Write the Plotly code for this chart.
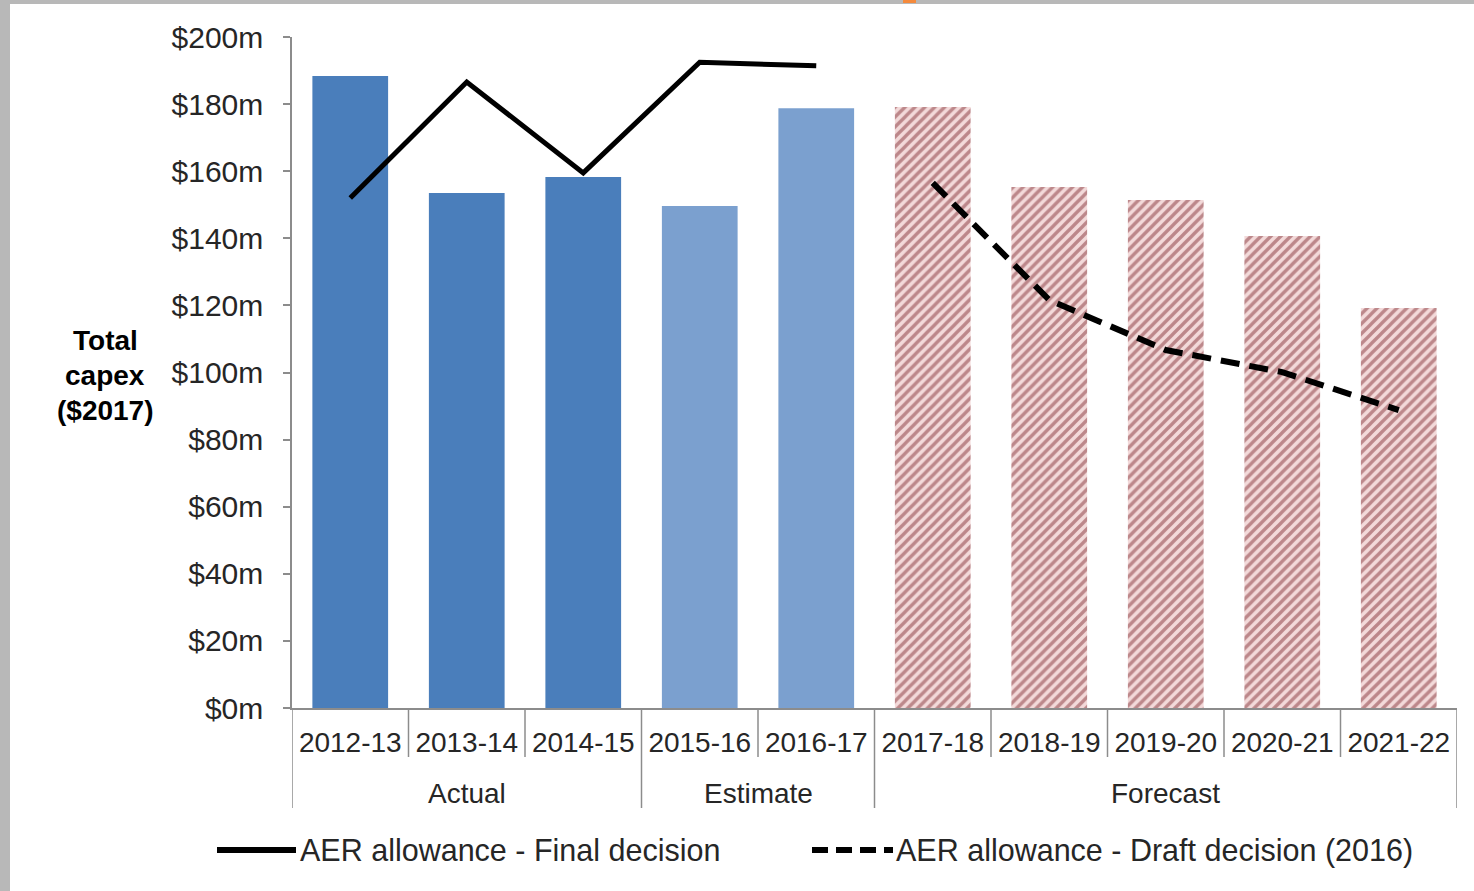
import plotly.graph_objects as go

# Financial years and the phase each belongs to
years = ["2012-13", "2013-14", "2014-15", "2015-16", "2016-17",
         "2017-18", "2018-19", "2019-20", "2020-21", "2021-22"]
phases = ["Actual", "Actual", "Actual", "Estimate", "Estimate",
          "Forecast", "Forecast", "Forecast", "Forecast", "Forecast"]
phase_names = ["Actual", "Estimate", "Forecast"]

# Total capex ($m, $2017)
capex = [188.4, 153.5, 158.3, 149.6, 178.8, 179.1, 155.3, 151.4, 140.7, 119.2]

# AER allowance lines ($m)
final_years = years[:5]
final_decision = [152.0, 186.6, 159.5, 192.5, 191.4]

draft_years = years[5:]
draft_decision = [156.5, 121.6, 106.7, 100.1, 88.8]

FONT = "Liberation Sans, Arial, sans-serif"
TXT = "#262626"
GRID = "#8c8c8c"

fig = go.Figure()

for phase, color in [("Actual", "#4a7ebb"), ("Estimate", "#7ba0cf")]:
    idx = [i for i, p in enumerate(phases) if p == phase]
    fig.add_trace(go.Bar(
        x=[years[i] for i in idx], y=[capex[i] for i in idx],
        marker=dict(color=color, line=dict(width=0)),
        showlegend=False, width=0.65,
    ))

idx = [i for i, p in enumerate(phases) if p == "Forecast"]
fig.add_trace(go.Bar(
    x=[years[i] for i in idx], y=[capex[i] for i in idx],
    marker=dict(color="#f3dada", line=dict(width=0),
                pattern=dict(shape="/", fgcolor="#863339", bgcolor="#f3dada",
                             size=7, solidity=0.48)),
    showlegend=False, width=0.65,
))

fig.add_trace(go.Scatter(
    x=final_years, y=final_decision, mode="lines",
    line=dict(color="black", width=5),
    name="AER allowance - Final decision", showlegend=False,
))
fig.add_trace(go.Scatter(
    x=draft_years, y=draft_decision, mode="lines",
    line=dict(color="black", width=6, dash="19px,10px"),
    name="AER allowance - Draft decision (2016)", showlegend=False,
))

# Plot-area geometry in pixels, used to place the hand-drawn legend
W, H = 1474, 891
L, R, T, B = 292, 17, 37, 183
pw, ph = W - L - R, H - T - B


def px(x):
    return (x - L) / pw


def py(y):
    return (H - B - y) / ph


shapes = [
    # outer frame bands
    dict(type="rect", xref="paper", yref="paper", x0=px(0), x1=px(10), y0=py(891), y1=py(0),
         fillcolor="#b8b8b8", line=dict(width=0), layer="below"),
    dict(type="rect", xref="paper", yref="paper", x0=px(0), x1=px(1474), y0=py(4), y1=py(0),
         fillcolor="#b8b8b8", line=dict(width=0), layer="below"),
    dict(type="rect", xref="paper", yref="paper", x0=px(903), x1=px(916), y0=py(3), y1=py(0),
         fillcolor="#f58a3c", line=dict(width=0)),
    # legend keys
    dict(type="line", xref="paper", yref="paper", x0=px(217), x1=px(296), y0=py(850), y1=py(850),
         line=dict(color="black", width=6)),
    dict(type="line", xref="paper", yref="paper", x0=px(812), x1=px(893), y0=py(850), y1=py(850),
         line=dict(color="black", width=6, dash="16px,8px")),
]

# Dividers under the category axis: short ones between years, long ones between phases
bounds = [i - 0.5 for i in range(len(years) + 1)]
for k, b in enumerate(bounds):
    edge = k == 0 or k == len(years) or phases[k - 1] != phases[k]
    shapes.append(dict(type="line", xref="x", yref="paper", x0=b, x1=b,
                       y0=0, y1=py(808 if edge else 757),
                       line=dict(color=GRID, width=1.5)))

annotations = [
    dict(text=f"<b>{t}</b>", xref="paper", yref="paper",
         x=px(105), y=py(yy), xanchor="center", yanchor="middle", showarrow=False,
         font=dict(family=FONT, size=28, color="black"))
    for t, yy in [("Total", 340), ("capex", 375), ("($2017)", 410)]
]
annotations += [
    dict(text="AER allowance - Final decision", xref="paper", yref="paper",
         x=px(298), y=py(850), xanchor="left", yanchor="middle", showarrow=False,
         font=dict(family=FONT, size=30.5, color=TXT)),
    dict(text="AER allowance - Draft decision (2016)", xref="paper", yref="paper",
         x=px(894), y=py(850), xanchor="left", yanchor="middle", showarrow=False,
         font=dict(family=FONT, size=30.5, color=TXT)),
]
for name in phase_names:
    pos = [i for i, p in enumerate(phases) if p == name]
    annotations.append(dict(
        text=name, xref="x", yref="paper", x=(pos[0] + pos[-1]) / 2, y=py(793),
        xanchor="center", yanchor="middle", showarrow=False,
        font=dict(family=FONT, size=28, color=TXT)))

fig.update_layout(
    width=W, height=H,
    margin=dict(l=L, r=R, t=T, b=B, pad=0),
    paper_bgcolor="white", plot_bgcolor="white",
    barmode="overlay", showlegend=False,
    font=dict(family=FONT, size=28, color=TXT),
    shapes=shapes, annotations=annotations,
)
fig.update_xaxes(
    type="category", categoryorder="array", categoryarray=years,
    range=[-0.5, len(years) - 0.5],
    showline=True, linecolor=GRID, linewidth=1.5, ticks="",
    ticklabelstandoff=9,
    tickfont=dict(family=FONT, size=28, color=TXT), showgrid=False,
)
fig.update_yaxes(
    range=[0, 200], dtick=20, tickprefix="$", ticksuffix="m",
    showline=True, linecolor=GRID, linewidth=1.5,
    ticks="outside", ticklen=7, tickcolor=GRID, tickwidth=1.5,
    ticklabelstandoff=14,
    showgrid=False, zeroline=False,
    tickfont=dict(family=FONT, size=30, color=TXT),
)

fig.write_html("out.html")
